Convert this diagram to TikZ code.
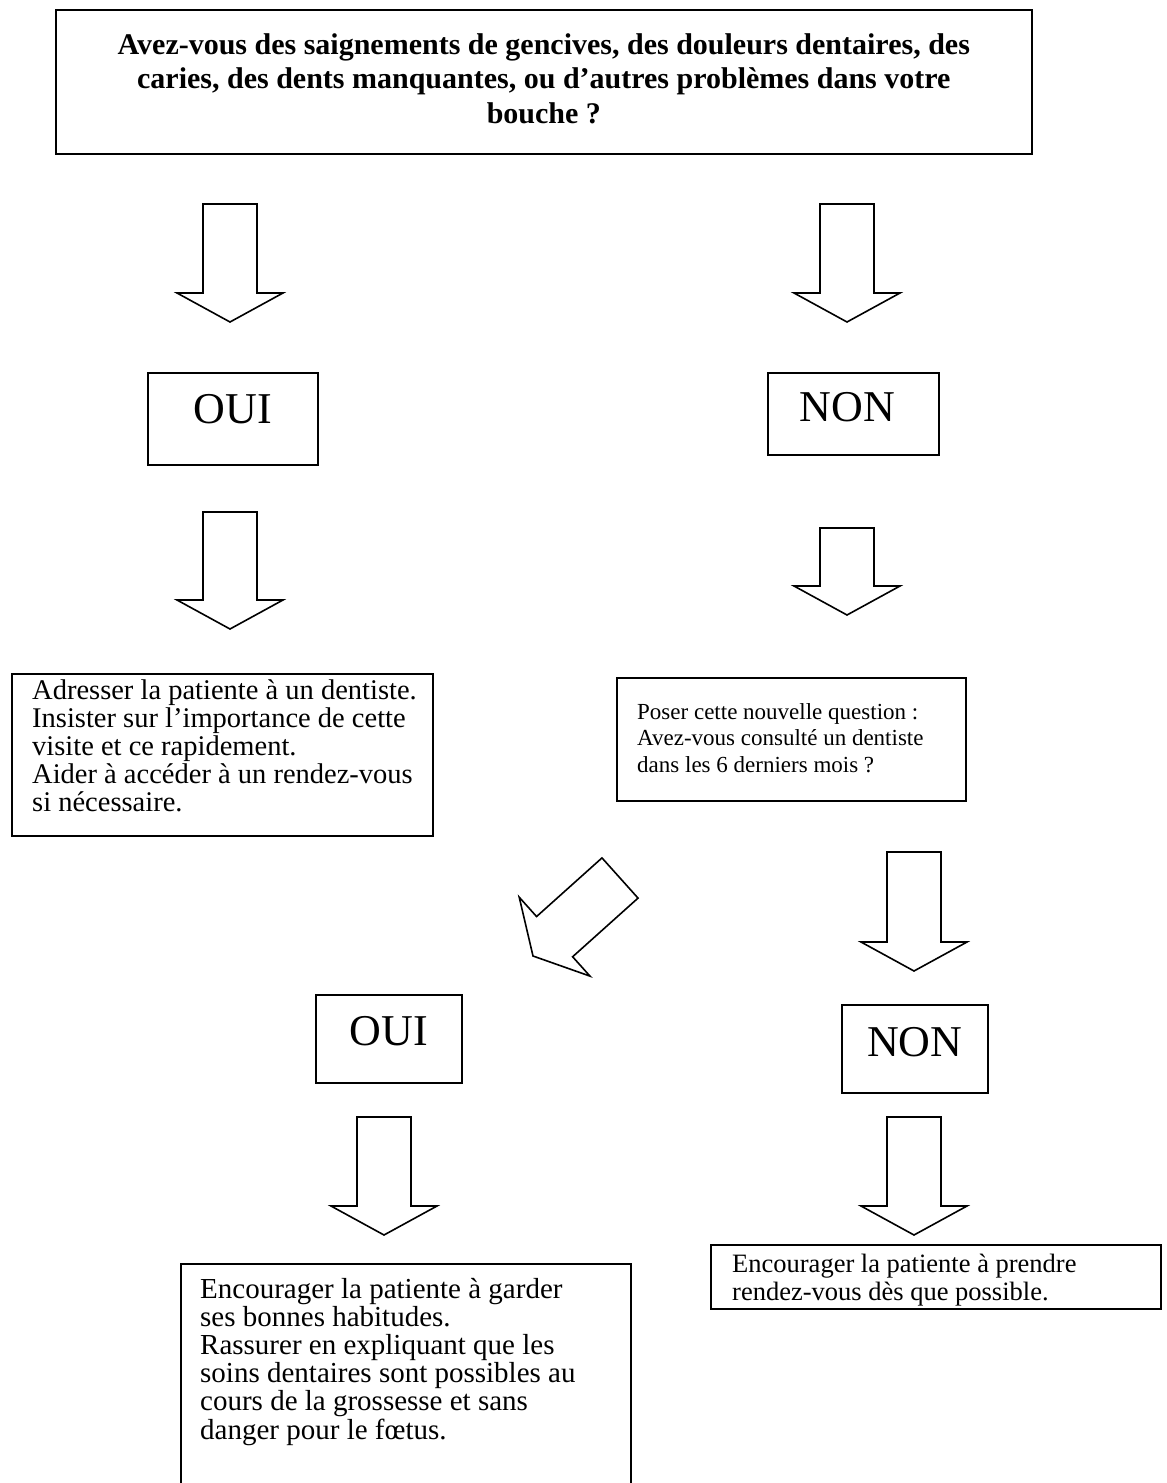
\documentclass[tikz,border=0pt]{standalone}
\usepackage{fontspec}
\setmainfont{Liberation Serif}
\usetikzlibrary{calc}
\newcommand\fontA{\fontsize{28.5}{28}\selectfont}
\newcommand\fontB{\fontsize{23}{26.5}\selectfont}
\newcommand\fontC{\fontsize{29}{28.2}\selectfont}
\newcommand\fontD{\fontsize{26.5}{28}\selectfont}
\newcommand\titlefont{\fontsize{30}{34.5}\selectfont\bfseries}
\newcommand\yesnofont{\fontsize{44}{48}\selectfont}
\newcommand\blockarrow[3]{%
  \coordinate (#1h) at ($(#3)!29pt!(#2)$);
  \draw[blockarr] ($(#2)!27pt!90:(#3)$) -- ($(#1h)!27pt!90:(#3)$) -- ($(#1h)!53pt!90:(#3)$) -- (#3)
    -- ($(#1h)!53pt!-90:(#3)$) -- ($(#1h)!27pt!-90:(#3)$) -- ($(#2)!27pt!-90:(#3)$) -- cycle;}
\begin{document}
\begin{tikzpicture}[x=1pt,y=-1pt,
  frame/.style={draw, line width=1.7pt, inner sep=0pt, anchor=north west},
  txt/.style={inner sep=0pt, anchor=base west},
  yn/.style={inner sep=0pt, anchor=base, font=\yesnofont},
  blockarr/.style={draw, line width=1.6pt, line join=miter, fill=white}]
\useasboundingbox (0,0) rectangle (1167,1483);
\clip (0,0) rectangle (1167,1483);
\fill[white] (0,0) rectangle (1167,1483);

% top question
\node[frame, minimum width=976, minimum height=144] (q) at (55,9) {};
\node[inner sep=0pt, anchor=base, font=\titlefont] (qt) at ($(q.north)+(0,45)$)
  {\parbox[t]{960pt}{\centering Avez-vous des saignements de gencives, des douleurs dentaires, des\\ caries, des dents manquantes, ou d’autres problèmes dans votre\\ bouche ?}};

% first arrows
\coordinate (a1s) at (230,204); \coordinate (a1t) at (230,322);
\blockarrow{a1}{a1s}{a1t}
\coordinate (a2s) at (847,204); \coordinate (a2t) at (847,322);
\blockarrow{a2}{a2s}{a2t}

% OUI / NON row 1
\node[frame, minimum width=170, minimum height=92] (oui1) at (147,372) {};
\node[yn] (oui1t) at ($(oui1.north)+(0,51)$) {OUI};
\node[frame, minimum width=171, minimum height=82] (non1) at (767,372) {};
\node[yn] (non1t) at ($(non1.north)+(-6,49)$) {NON};

% second arrows
\coordinate (a3s) at (230,512); \coordinate (a3t) at (230,629);
\blockarrow{a3}{a3s}{a3t}
\coordinate (a4s) at (847,528); \coordinate (a4t) at (847,615);
\blockarrow{a4}{a4s}{a4t}

% text boxes row 2
\node[frame, minimum width=421, minimum height=162] (ba) at (11,673) {};
\node[txt, font=\fontA] (bat) at (32,699) {\parbox[t]{395pt}{\raggedright Adresser la patiente à un dentiste.\\ Insister sur l’importance de cette\\ visite et ce rapidement.\\ Aider à accéder à un rendez-vous\\ si nécessaire.}};
\node[frame, minimum width=349, minimum height=123] (bb) at (616,677) {};
\node[txt, font=\fontB] (bbt) at (637,719) {\parbox[t]{320pt}{\raggedright Poser cette nouvelle question :\\ Avez-vous consulté un dentiste\\ dans les 6 derniers mois ?}};

% diagonal and right arrows
\coordinate (a5s) at (620,878); \coordinate (a5t) at (533,956);
\blockarrow{a5}{a5s}{a5t}
\coordinate (a6s) at (914,852); \coordinate (a6t) at (914,971);
\blockarrow{a6}{a6s}{a6t}

% OUI / NON row 2
\node[frame, minimum width=146, minimum height=88] (oui2) at (315,994) {};
\node[yn] (oui2t) at ($(oui2.north)+(0,51)$) {OUI};
\node[frame, minimum width=146, minimum height=88] (non2) at (841,1004) {};
\node[yn] (non2t) at ($(non2.north)+(0,52)$) {NON};

% bottom arrows
\coordinate (a7s) at (384,1117); \coordinate (a7t) at (384,1235);
\blockarrow{a7}{a7s}{a7t}
\coordinate (a8s) at (914,1117); \coordinate (a8t) at (914,1235);
\blockarrow{a8}{a8s}{a8t}

% bottom boxes
\node[frame, minimum width=450, minimum height=260] (bc) at (180,1263) {};
\node[txt, font=\fontC] (bct) at (200,1298) {\parbox[t]{420pt}{\raggedright Encourager la patiente à garder\\ ses bonnes habitudes.\\ Rassurer en expliquant que les\\ soins dentaires sont possibles au\\ cours de la grossesse et sans\\ danger pour le fœtus.}};
\node[frame, minimum width=450, minimum height=64] (bd) at (710,1244) {};
\node[txt, font=\fontD] (bdt) at (732,1272) {\parbox[t]{420pt}{\raggedright Encourager la patiente à prendre\\ rendez-vous dès que possible.}};
\end{tikzpicture}
\end{document}
